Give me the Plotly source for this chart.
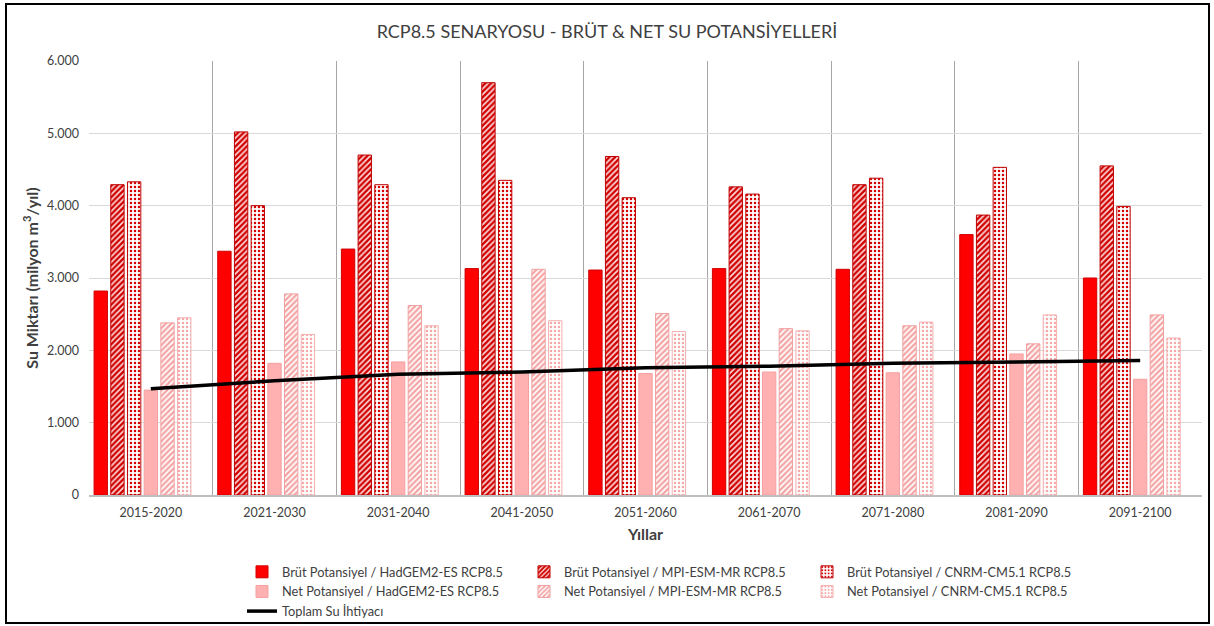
import plotly.graph_objects as go

categories = ["2015-2020", "2021-2030", "2031-2040", "2041-2050", "2051-2060",
              "2061-2070", "2071-2080", "2081-2090", "2091-2100"]

brut_hadgem = [2820, 3370, 3400, 3130, 3110, 3130, 3120, 3600, 3000]
brut_mpi    = [4290, 5020, 4700, 5700, 4680, 4260, 4290, 3870, 4550]
brut_cnrm   = [4330, 4000, 4290, 4350, 4110, 4160, 4380, 4530, 3990]
net_hadgem  = [1450, 1820, 1840, 1700, 1680, 1700, 1690, 1950, 1600]
net_mpi     = [2380, 2780, 2620, 3120, 2510, 2300, 2340, 2090, 2490]
net_cnrm    = [2450, 2220, 2340, 2410, 2260, 2270, 2390, 2490, 2170]
toplam      = [1470, 1580, 1670, 1700, 1760, 1780, 1820, 1840, 1860]

W, H = 1214, 626
ML, MR, MT, MB = 89, 12, 61, 131
PW, PH = W - ML - MR, H - MT - MB

FONT = "Lato"
TXT = "#404040"

fig = go.Figure()

def bar(name, y, color, line_color, pattern=None, legend="legend"):
    marker = dict(color=color, line=dict(color=line_color, width=1))
    if pattern:
        marker["pattern"] = pattern
    fig.add_trace(go.Bar(name=name, x=categories, y=y, marker=marker, legend=legend))

bar("Brüt Potansiyel / HadGEM2-ES RCP8.5", brut_hadgem, "#FF0000", "#D00000", legend="legend")
bar("Brüt Potansiyel / MPI-ESM-MR RCP8.5", brut_mpi, "#FFFFFF", "#C00000",
    dict(shape="/", fgcolor="#D00000", bgcolor="#FFE0E0", size=4, solidity=0.6, fillmode="replace"),
    legend="legend2")
bar("Brüt Potansiyel / CNRM-CM5.1 RCP8.5", brut_cnrm, "#FFFFFF", "#C00000",
    dict(shape=".", fgcolor="#D40000", bgcolor="#FFFFFF", size=4, solidity=0.3, fillmode="replace"),
    legend="legend3")
bar("Net Potansiyel / HadGEM2-ES RCP8.5", net_hadgem, "#FFB0B0", "#F5A0A0", legend="legend")
bar("Net Potansiyel / MPI-ESM-MR RCP8.5", net_mpi, "#FFFFFF", "#F0A0A0",
    dict(shape="/", fgcolor="#F4A4A4", bgcolor="#FFFFFF", size=4, solidity=0.55, fillmode="replace"),
    legend="legend2")
bar("Net Potansiyel / CNRM-CM5.1 RCP8.5", net_cnrm, "#FFFFFF", "#F4B0B0",
    dict(shape=".", fgcolor="#F4A8A8", bgcolor="#FFFFFF", size=4, solidity=0.3, fillmode="replace"),
    legend="legend3")
# empty slot (the line series occupies a bar slot in the original layout)
fig.add_trace(go.Bar(name="", x=categories, y=[None] * len(categories),
                     showlegend=False, hoverinfo="skip"))

fig.add_trace(go.Scatter(name="Toplam Su İhtiyacı", x=categories, y=toplam, mode="lines",
                         line=dict(color="#000000", width=3.5), legend="legend"))

def px_x(p):
    return (p - ML) / PW

def px_y(p):
    return (H - MB - p) / PH

leg_common = dict(orientation="v", xanchor="left", yanchor="top",
                  font=dict(family=FONT, size=12.8, color=TXT),
                  bgcolor="rgba(0,0,0,0)", tracegroupgap=0, itemwidth=30)

fig.update_layout(
    width=W, height=H,
    margin=dict(l=ML, r=MR, t=MT, b=MB, autoexpand=False),
    paper_bgcolor="white", plot_bgcolor="white",
    separators=",.",
    barmode="group", bargap=0.055, bargroupgap=0.2,
    font=dict(family=FONT, color=TXT),
    title=dict(text="RCP8.5 SENARYOSU - BRÜT & NET SU POTANSİYELLERİ",
               x=0.5, xref="container", xanchor="center",
               y=1 - 32 / H, yref="container", yanchor="middle",
               font=dict(family=FONT, size=18, color=TXT)),
    legend=dict(x=px_x(242), y=px_y(557), **leg_common),
    legend2=dict(x=px_x(524), y=px_y(557), **leg_common),
    legend3=dict(x=px_x(807), y=px_y(557), **leg_common),
    xaxis=dict(type="category", tickson="boundaries", showgrid=True,
               gridcolor="#A6A6A6", gridwidth=1, ticks="",
               showline=True, linecolor="#BFBFBF", linewidth=2,
               automargin=False, ticklabelstandoff=5,
               tickfont=dict(family=FONT, size=12.5, color=TXT),
               title=dict(text="<b>Yıllar</b>", font=dict(family=FONT, size=16, color=TXT), standoff=10)),
    yaxis=dict(range=[0, 6000], dtick=1000, tickformat=",d",
               showgrid=True, gridcolor="#D9D9D9", zeroline=False, ticks="",
               automargin=False, ticklabelstandoff=9,
               tickfont=dict(family=FONT, size=12.5, color=TXT),
               title=dict(text="<b>Su Miktarı (milyon m<sup>3</sup>/yıl)</b>",
                          font=dict(family=FONT, size=16, color=TXT), standoff=4)),
)

# outer frame
fig.add_shape(type="rect", xref="paper", yref="paper",
              x0=px_x(6), x1=px_x(1209), y0=px_y(623), y1=px_y(4),
              line=dict(color="#000000", width=2), fillcolor="rgba(0,0,0,0)", layer="below")

fig.write_html("out.html", config={"displayModeBar": False},
               post_script="document.body.style.margin='0px';document.body.style.overflow='hidden';")
